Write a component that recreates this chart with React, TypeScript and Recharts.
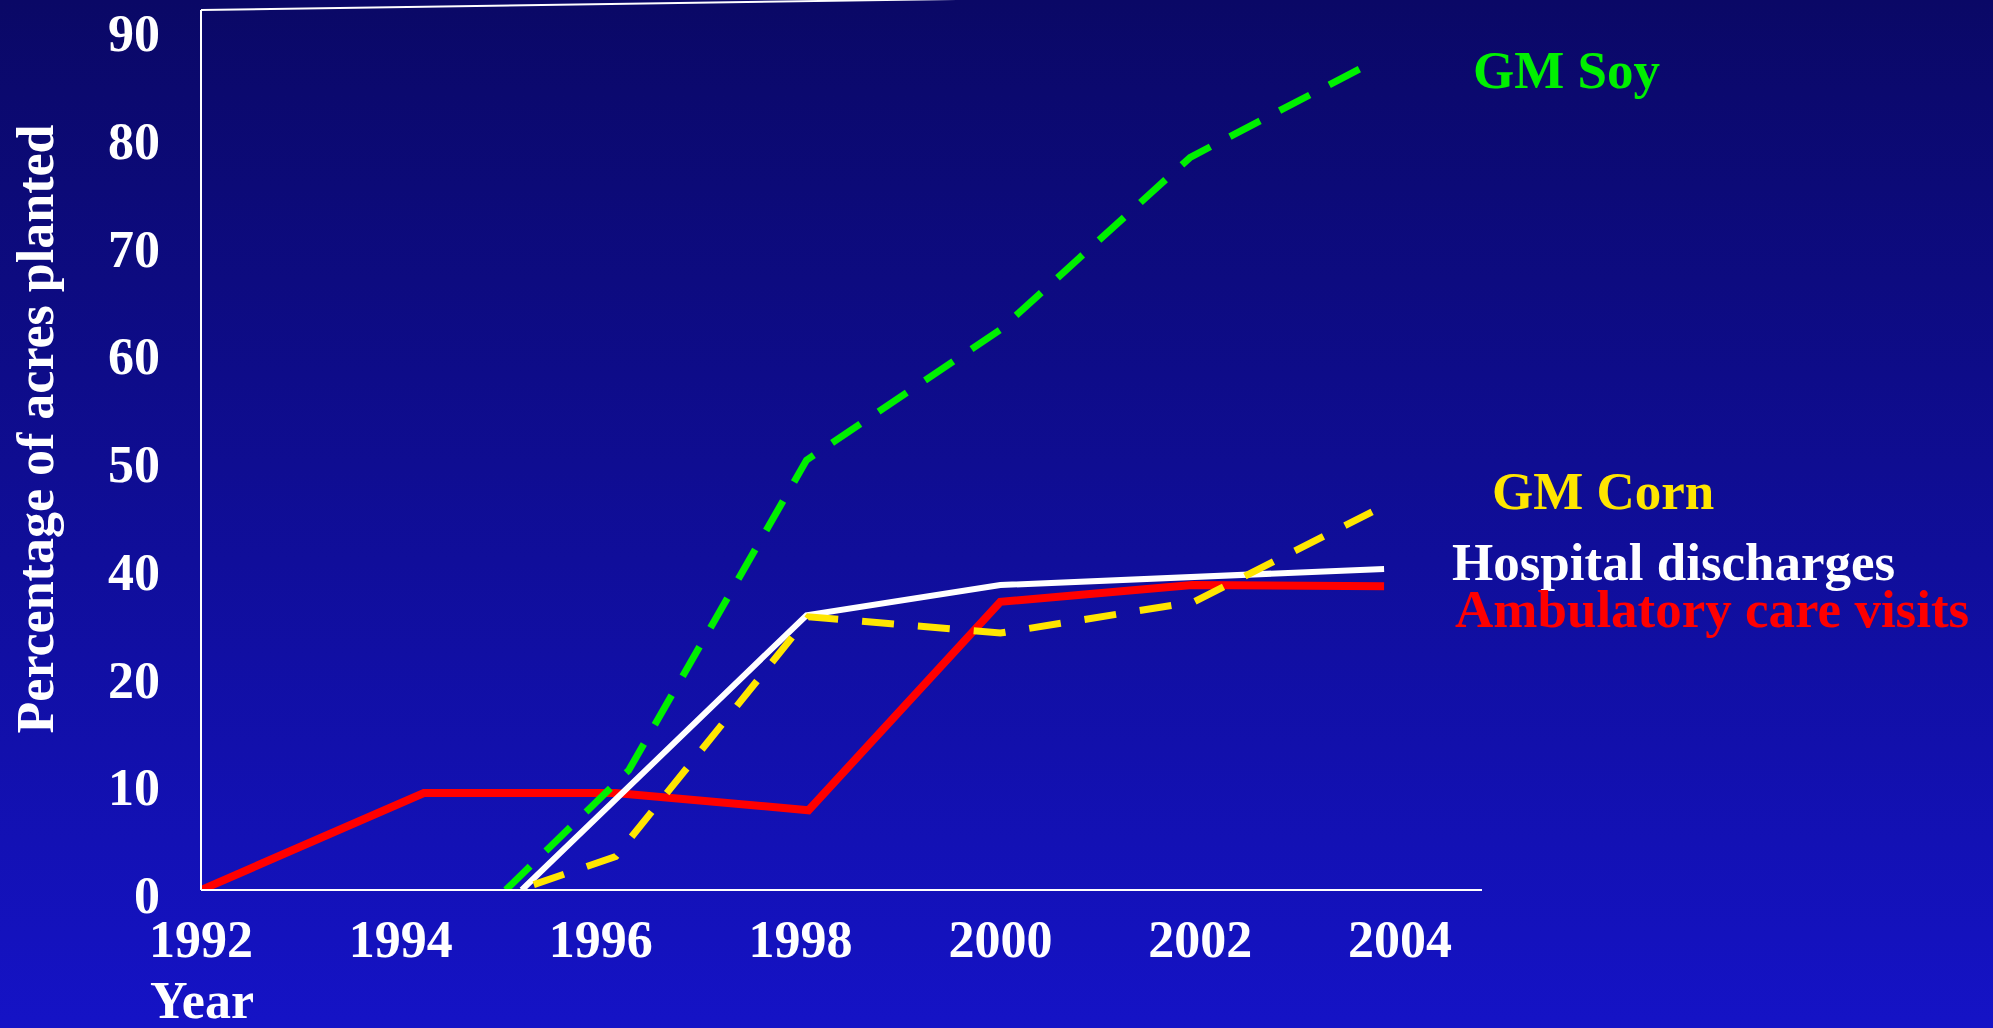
import { LineChart, Line, XAxis, YAxis, ReferenceLine } from 'recharts'

// x ticks on the printed axis
const yearTicks = [1992, 1994, 1996, 1998, 2000, 2002, 2004]

// the printed y axis skips 30, so 20 -> 40 only takes one step
const yTickPos = [0, 10, 20, 30, 40, 50, 60, 70, 80]
const yTickLabels = ['0', '10', '20', '40', '50', '60', '70', '80', '90']

// values, in the units of the printed labels
const soyYears = [1995.05, 1996.28, 1998.06, 2000.0, 2001.9, 2003.72]
const soyValues = [0, 11.1, 49.9, 62.0, 78.0, 86.8]

const cornYears = [1995.33, 1996.15, 1998.08, 2000.0, 2001.94, 2003.72]
const cornValues = [0.5, 3.1, 30.7, 27.7, 33.5, 45.1]

const hospitalYears = [1995.21, 1998.06, 2000.0, 2003.84]
const hospitalValues = [0, 31.0, 36.6, 39.6]

const ambulatoryYears = [1992.0, 1994.23, 1996.15, 1998.08, 2000.0, 2001.92, 2003.84]
const ambulatoryValues = [0, 9.0, 9.0, 7.4, 33.5, 36.6, 36.4]

const serif = '"Liberation Serif", "Times New Roman", serif'

const toAxis = (v: number) => (v <= 20 ? v : v <= 40 ? 20 + (v - 20) / 2 : v - 10)

const series = (years: number[], values: number[]) =>
  years.map((year, i) => ({ year, value: toAxis(values[i]) }))

const soyData = series(soyYears, soyValues)
const cornData = series(cornYears, cornValues)
const hospitalData = series(hospitalYears, hospitalValues)
const ambulatoryData = series(ambulatoryYears, ambulatoryValues)

function YTick({ x, y, payload }: any) {
  const idx = yTickPos.indexOf(payload.value)
  return (
    <text
      x={x}
      y={y + 5}
      dy="0.35em"
      textAnchor="end"
      fill="#fff"
      fontSize={52}
      fontWeight="bold"
      fontFamily={serif}
    >
      {yTickLabels[idx]}
    </text>
  )
}

function XTick({ x, y, payload }: any) {
  return (
    <text
      x={x}
      y={y}
      dy={67}
      textAnchor="middle"
      fill="#fff"
      fontSize={52}
      fontWeight="bold"
      fontFamily={serif}
    >
      {payload.value}
    </text>
  )
}

const labelStyle = { fontSize: 53, fontWeight: 'bold' as const, fontFamily: serif }

export default function App() {
  return (
    <div
      style={{
        position: 'fixed',
        left: 0,
        top: 0,
        width: 1993,
        height: 1028,
        background: 'linear-gradient(to bottom, #0a0866 0%, #1513c6 100%)',
        overflow: 'hidden',
      }}
    >
      <LineChart
        width={1993}
        height={1028}
        margin={{ top: 10, right: 511, bottom: 0, left: 0 }}
      >
        <XAxis
          type="number"
          dataKey="year"
          domain={[1992, 2004.82]}
          ticks={yearTicks}
          interval={0}
          allowDataOverflow
          height={138}
          tickSize={0}
          tickMargin={0}
          tickLine={false}
          axisLine={{ stroke: '#fff', strokeWidth: 2 }}
          tick={<XTick />}
        />
        <YAxis
          type="number"
          domain={[0, 81.67]}
          ticks={yTickPos}
          interval={0}
          allowDataOverflow
          width={201}
          tickSize={0}
          tickMargin={41}
          tickLine={false}
          axisLine={{ stroke: '#fff', strokeWidth: 2 }}
          tick={<YTick />}
        />
        <ReferenceLine
          segment={[
            { x: 1992, y: 81.67 },
            { x: 2004.82, y: 83.4 },
          ]}
          stroke="#fff"
          strokeWidth={2}
          ifOverflow="visible"
        />
        <Line
          data={ambulatoryData}
          dataKey="value"
          type="linear"
          stroke="#ff0000"
          strokeWidth={8}
          dot={false}
          isAnimationActive={false}
        />
        <Line
          data={soyData}
          dataKey="value"
          type="linear"
          stroke="#00f000"
          strokeWidth={7}
          strokeDasharray="34 22"
          dot={false}
          isAnimationActive={false}
        />
        <Line
          data={hospitalData}
          dataKey="value"
          type="linear"
          stroke="#ffffff"
          strokeWidth={6}
          dot={false}
          isAnimationActive={false}
        />
        <Line
          data={cornData}
          dataKey="value"
          type="linear"
          stroke="#ffe600"
          strokeWidth={7}
          strokeDasharray="32 24"
          dot={false}
          isAnimationActive={false}
        />
      </LineChart>
      <svg
        width={1993}
        height={1028}
        style={{ position: 'absolute', left: 0, top: 0, pointerEvents: 'none' }}
      >
        <text
          transform="translate(53, 429) rotate(-90)"
          textAnchor="middle"
          fill="#fff"
          fontSize={52}
          fontWeight="bold"
          fontFamily={serif}
        >
          Percentage of acres planted
        </text>
        <text x={202} y={1018} textAnchor="middle" fill="#fff" {...labelStyle} fontSize={52}>
          Year
        </text>
        <text x={1473} y={88} fill="#00f000" {...labelStyle}>
          GM Soy
        </text>
        <text x={1492} y={509} fill="#ffe600" {...labelStyle}>
          GM Corn
        </text>
        <text x={1452} y={580} fill="#ffffff" {...labelStyle}>
          Hospital discharges
        </text>
        <text x={1455} y={627} fill="#ff0000" {...labelStyle}>
          Ambulatory care visits
        </text>
      </svg>
    </div>
  )
}
